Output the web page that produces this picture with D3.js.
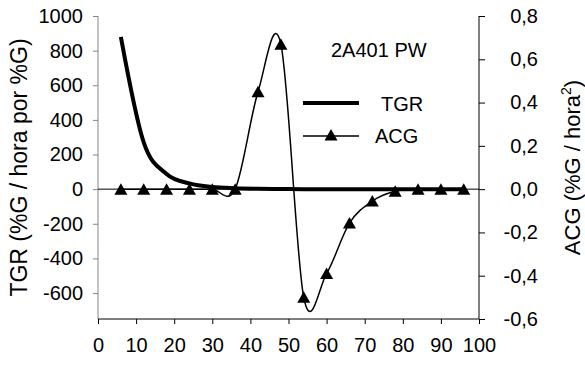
<!DOCTYPE html>
<html>
<head>
<meta charset="utf-8">
<script src="https://cdn.jsdelivr.net/npm/d3@7"></script>
<style>
  body { margin: 0; background: #fff; }
  text { font-family: "Liberation Sans", Arial, sans-serif; fill: #000; }
</style>
</head>
<body>
<div id="chart"></div>
<script>
//data
var hours = [6, 12, 18, 24, 30, 36, 42, 48, 54, 60, 66, 72, 78, 84, 90, 96];
var tgrValues = [880, 270, 88, 33, 12, 5, 2, 1, 0, 0, 0, 0, 0, 0, 0, 0];
var acgValues = [0, 0, 0, 0, 0, 0, 0.45, 0.67, -0.5, -0.39, -0.157, -0.055, -0.01, 0, 0, 0];
var xTicks = [0, 10, 20, 30, 40, 50, 60, 70, 80, 90, 100];
var leftTicks = [-600, -400, -200, 0, 200, 400, 600, 800, 1000];
var rightTicks = [-0.6, -0.4, -0.2, 0, 0.2, 0.4, 0.6, 0.8];

var width = 585, height = 365;
var plot = { left: 98, right: 479, top: 16, bottom: 319 };
var fontSize = 20;

var svg = d3.select("#chart")
    .append("svg")
    .attr("width", width)
    .attr("height", height);

svg.append("rect").attr("width", width).attr("height", height).attr("fill", "#fff");

//scales
var x = d3.scaleLinear().domain([0, 100]).range([plot.left, plot.right]);
var yLeft = d3.scaleLinear().domain([-750, 1000]).range([plot.bottom, plot.top]);
var yRight = d3.scaleLinear().domain([-0.6, 0.8]).range([plot.bottom, plot.top]);

var fmtComma = function(d) { return d3.format(".1f")(d).replace(".", ","); };

//left axis (grey line)
var leftAxis = svg.append("g")
    .attr("transform", "translate(" + plot.left + ",0)")
    .call(d3.axisLeft(yLeft).tickValues(leftTicks).tickSize(5).tickPadding(10).tickFormat(d3.format("d")));
leftAxis.select(".domain").attr("stroke", "#868686").attr("d", "M-0," + plot.top + "V" + plot.bottom);
leftAxis.selectAll(".tick line").attr("stroke", "#868686");
leftAxis.selectAll("text").style("font-size", fontSize + "px").text(function(d) { return d < 0 ? "-" + Math.abs(d) : d; });

//bottom axis
var bottomAxis = svg.append("g")
    .attr("transform", "translate(0," + plot.bottom + ")")
    .call(d3.axisBottom(x).tickValues(xTicks).tickSize(5).tickPadding(14));
bottomAxis.select(".domain").attr("d", "M" + plot.left + ",0H" + plot.right);
bottomAxis.selectAll("text").style("font-size", fontSize + "px");

//right axis, labels right aligned like the original
var rightAxis = svg.append("g")
    .attr("transform", "translate(" + plot.right + ",0)")
    .call(d3.axisRight(yRight).tickValues(rightTicks).tickSize(6).tickFormat(function(d) { return d < 0 ? "-" + fmtComma(-d) : fmtComma(d); }));
rightAxis.select(".domain").attr("d", "M0," + plot.top + "V" + plot.bottom);
rightAxis.selectAll("text")
    .style("font-size", fontSize + "px")
    .attr("text-anchor", "end")
    .attr("x", 538 - plot.right);

//zero line
svg.append("line")
    .attr("x1", plot.left).attr("x2", plot.right)
    .attr("y1", yLeft(0)).attr("y2", yLeft(0))
    .attr("stroke", "#000").attr("stroke-width", 1);

//axis titles
svg.append("text")
    .attr("transform", "translate(27," + ((plot.top + plot.bottom) / 2) + ") rotate(-90)")
    .attr("text-anchor", "middle")
    .style("font-size", "23px")
    .text("TGR (%G / hora por %G)");

var rightTitle = svg.append("text")
    .attr("transform", "translate(580," + ((plot.top + plot.bottom) / 2) + ") rotate(-90)")
    .attr("text-anchor", "middle")
    .style("font-size", "22px");
rightTitle.append("tspan").text("ACG (%G / hora");
rightTitle.append("tspan").attr("dy", -9).style("font-size", "14px").text("2");
rightTitle.append("tspan").attr("dy", 9).text(")");

//smoothed lines
var curve = d3.curveCardinal.tension(0);

var tgrLine = d3.line()
    .x(function(d, i) { return x(hours[i]); })
    .y(function(d) { return yLeft(d); })
    .curve(curve);

var acgLine = d3.line()
    .x(function(d, i) { return x(hours[i]); })
    .y(function(d) { return yRight(d); })
    .curve(curve);

svg.append("path")
    .datum(acgValues)
    .attr("fill", "none")
    .attr("stroke", "#000")
    .attr("stroke-width", 1.5)
    .attr("d", acgLine);

svg.append("path")
    .datum(tgrValues)
    .attr("fill", "none")
    .attr("stroke", "#000")
    .attr("stroke-width", 4)
    .attr("d", tgrLine);

//triangle markers
var tri = "M0,-6L6.5,5.5L-6.5,5.5Z";
svg.selectAll(".acg-marker")
    .data(acgValues)
    .enter()
    .append("path")
    .attr("class", "acg-marker")
    .attr("d", tri)
    .attr("fill", "#000")
    .attr("transform", function(d, i) { return "translate(" + x(hours[i]) + "," + yRight(d) + ")"; });

//legend
svg.append("text")
    .attr("x", 331).attr("y", 57)
    .style("font-size", fontSize + "px")
    .text("2A401 PW");

svg.append("line")
    .attr("x1", 303).attr("x2", 359).attr("y1", 103).attr("y2", 103)
    .attr("stroke", "#000").attr("stroke-width", 4);
svg.append("text")
    .attr("x", 381).attr("y", 111)
    .style("font-size", fontSize + "px")
    .text("TGR");

svg.append("line")
    .attr("x1", 303).attr("x2", 359).attr("y1", 136).attr("y2", 136)
    .attr("stroke", "#000").attr("stroke-width", 1.5);
svg.append("path")
    .attr("d", tri)
    .attr("fill", "#000")
    .attr("transform", "translate(331,135)");
svg.append("text")
    .attr("x", 375).attr("y", 143)
    .style("font-size", fontSize + "px")
    .text("ACG");
</script>
</body>
</html>
